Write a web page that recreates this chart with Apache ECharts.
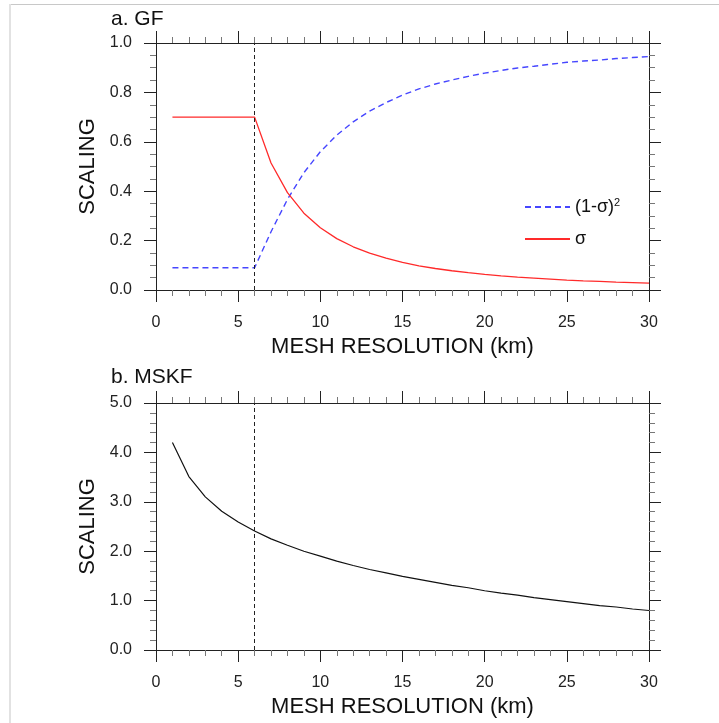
<!DOCTYPE html>
<html>
<head>
<meta charset="utf-8">
<script src="https://cdn.jsdelivr.net/npm/echarts@6/dist/echarts.min.js"></script>
<style>
html,body{margin:0;padding:0;background:#fff;}
#c{width:719px;height:723px;}
</style>
</head>
<body>
<div id="c"></div>
<script>
// mesh resolution (km)
const meshKm = [1,2,3,4,5,6,7,8,9,10,11,12,13,14,15,16,17,18,19,20,21,22,23,24,25,26,27,28,29,30];
// panel a: GF scaling
const sigma = [0.70,0.70,0.70,0.70,0.70,0.70,0.514,0.394,0.311,0.252,0.208,0.175,0.149,0.129,0.112,0.098,0.087,0.078,0.070,0.063,0.057,0.052,0.048,0.044,0.040,0.037,0.035,0.032,0.030,0.028];
const oneMinusSigmaSq = [0.09,0.09,0.09,0.09,0.09,0.09,0.236,0.367,0.475,0.560,0.627,0.681,0.724,0.759,0.789,0.814,0.834,0.850,0.865,0.878,0.889,0.899,0.906,0.914,0.922,0.927,0.931,0.937,0.941,0.945];
// panel b: MSKF scaling
const mskf = [4.20,3.51,3.10,2.81,2.59,2.41,2.25,2.12,2.00,1.90,1.80,1.71,1.63,1.56,1.49,1.43,1.37,1.31,1.26,1.20,1.15,1.11,1.06,1.02,0.98,0.94,0.90,0.87,0.83,0.80];
// reference resolution (dashed vertical line)
const refKm = 6;
// tick settings
const xTicks = [0,5,10,15,20,25,30];
const yTicksA = [0.0,0.2,0.4,0.6,0.8,1.0];
const yTicksB = [0.0,1.0,2.0,3.0,4.0,5.0];
const titles = ['a. GF','b. MSKF'];
const xTitle = 'MESH RESOLUTION (km)';
const yTitle = 'SCALING';

const FONT = 'Liberation Sans, Arial, Helvetica, sans-serif';
const AX = '#222';
function pairs(xs, ys){ return xs.map((x,i)=>[x, ys[i]]); }

function xAx(grid, pos, show){
  return {
    type:'value', gridIndex:grid, position:pos,
    min:xTicks[0], max:xTicks[xTicks.length-1], interval:xTicks[1]-xTicks[0],
    axisLine:{show:true, onZero:false, lineStyle:{color:AX,width:1}},
    axisTick:{show:true, inside:false, length:12, lineStyle:{color:AX,width:1}},
    minorTick:{show:true, splitNumber:5, length:6, lineStyle:{color:'#777',width:1}},
    splitLine:{show:false}, minorSplitLine:{show:false},
    axisLabel:{show:show, margin:25, color:'#222', fontFamily:FONT, fontSize:16},
    name: show ? xTitle : '', nameLocation:'middle', nameGap:46,
    nameTextStyle:{color:'#111', fontFamily:FONT, fontSize:22}
  };
}
function yAx(grid, pos, show, ticks, minorSplit){
  return {
    type:'value', gridIndex:grid, position:pos,
    min:ticks[0], max:ticks[ticks.length-1], interval:ticks[1]-ticks[0],
    axisLine:{show:true, onZero:false, lineStyle:{color:AX,width:1}},
    axisTick:{show:true, inside:false, length:12, lineStyle:{color:AX,width:1}},
    minorTick:{show:true, splitNumber:minorSplit, length:6, lineStyle:{color:'#777',width:1}},
    splitLine:{show:false}, minorSplitLine:{show:false},
    axisLabel:{show:show, margin:24, color:'#222', fontFamily:FONT, fontSize:16,
      formatter:v=>v.toFixed(1)},
    name: show ? yTitle : '', nameLocation:'middle', nameGap:56, nameRotate:90,
    nameTextStyle:{color:'#111', fontFamily:FONT, fontSize:22}
  };
}

const refLine = {
  silent:true, symbol:'none', animation:false,
  label:{show:false},
  lineStyle:{color:'#222', type:[4,3], width:1},
  data:[{xAxis:refKm}]
};

const chart = echarts.init(document.getElementById('c'), null, {renderer:'canvas'});
chart.setOption({
  animation:false,
  backgroundColor:'#fff',
  title:[
    {text:titles[0], left:106, top:4, textStyle:{fontFamily:FONT, fontSize:21, fontWeight:'normal', color:'#111'}},
    {text:titles[1], left:106, top:362, textStyle:{fontFamily:FONT, fontSize:21, fontWeight:'normal', color:'#111'}}
  ],
  grid:[
    {left:156, top:43, width:493, height:247, containLabel:false},
    {left:156, top:403, width:493, height:247, containLabel:false}
  ],
  xAxis:[ xAx(0,'bottom',true), xAx(0,'top',false), xAx(1,'bottom',true), xAx(1,'top',false) ],
  yAxis:[ yAx(0,'left',true,yTicksA,4), yAx(0,'right',false,yTicksA,4),
          yAx(1,'left',true,yTicksB,5), yAx(1,'right',false,yTicksB,5) ],
  legend:{
    orient:'vertical', left:519, top:192, itemWidth:45, itemHeight:14, itemGap:14,
    data:['sig2','sig'],
    itemStyle:{opacity:0},
    formatter: n => n==='sig2' ? '(1-σ){s|2}' : 'σ',
    textStyle:{fontFamily:FONT, fontSize:18, color:'#111',
      rich:{s:{fontSize:11, verticalAlign:'top', padding:[0,0,9,0], fontFamily:FONT, color:'#111'}}}
  },
  graphic:[
    {type:'line', shape:{x1:9, y1:4.5, x2:719, y2:4.5}, style:{stroke:'#c8c8c8', lineWidth:1}, silent:true},
    {type:'line', shape:{x1:10, y1:4, x2:10, y2:723}, style:{stroke:'#e2e2e2', lineWidth:2}, silent:true}
  ],
  series:[
    {name:'sig2', type:'line', xAxisIndex:0, yAxisIndex:0, data:pairs(meshKm, oneMinusSigmaSq),
     symbol:'none', lineStyle:{color:'#4646ff', width:1.4, type:[6,4]}, itemStyle:{color:'#4646ff'},
     markLine:refLine},
    {name:'sig', type:'line', xAxisIndex:0, yAxisIndex:0, data:pairs(meshKm, sigma),
     symbol:'none', lineStyle:{color:'#ff2a2a', width:1.3}, itemStyle:{color:'#ff2a2a'}},
    {name:'mskf', type:'line', xAxisIndex:2, yAxisIndex:2, data:pairs(meshKm, mskf),
     symbol:'none', lineStyle:{color:'#111', width:1.2}, itemStyle:{color:'#111'},
     markLine:refLine}
  ]
});
</script>
</body>
</html>
